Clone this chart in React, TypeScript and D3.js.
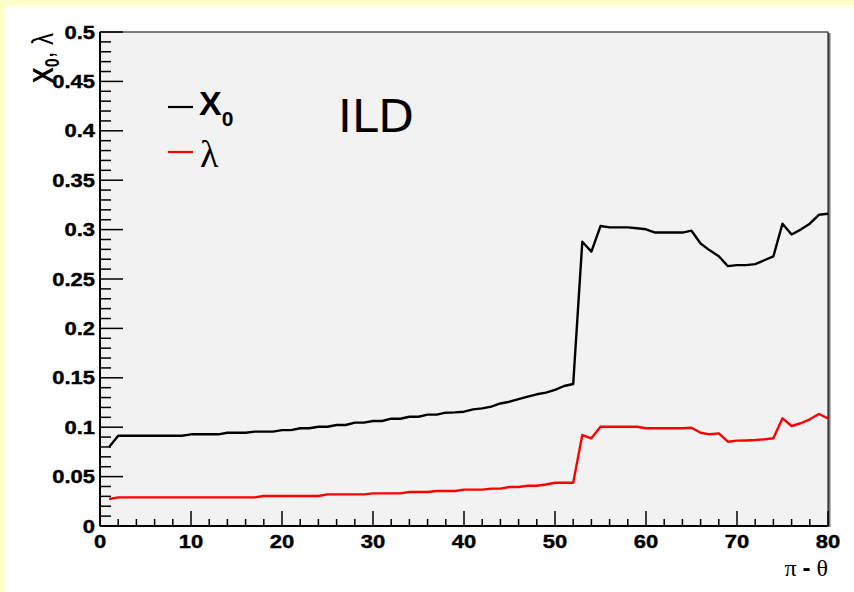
import React, { useEffect, useRef } from "react";
import * as d3 from "d3";

// material budget vs. angle, one value per degree bin (1..80)
const x0Values = [
  0.080, 0.0914, 0.0914, 0.0914, 0.0914, 0.0914, 0.0914, 0.0914, 0.0914, 0.0928,
  0.0928, 0.0928, 0.0928, 0.0944, 0.0944, 0.0944, 0.0955, 0.0955, 0.0955, 0.097,
  0.097, 0.0989, 0.0989, 0.1005, 0.1005, 0.1022, 0.1022, 0.1046, 0.1046, 0.1063,
  0.1063, 0.1086, 0.1086, 0.1106, 0.1106, 0.1127, 0.1127, 0.1147, 0.115, 0.1157,
  0.118, 0.119, 0.1208, 0.124, 0.1258, 0.1285, 0.131, 0.1333, 0.135, 0.1377,
  0.1417, 0.1437, 0.2877, 0.2777, 0.3036, 0.3023, 0.3023, 0.3023, 0.3013, 0.3003,
  0.297, 0.297, 0.297, 0.297, 0.2989, 0.286, 0.279, 0.273, 0.263, 0.264,
  0.264, 0.265, 0.269, 0.273, 0.306, 0.295, 0.300, 0.306, 0.315, 0.316,
];

const lambdaValues = [
  0.0273, 0.029, 0.029, 0.029, 0.029, 0.029, 0.029, 0.029, 0.029, 0.029,
  0.029, 0.029, 0.029, 0.029, 0.029, 0.029, 0.029, 0.0304, 0.0304, 0.0304,
  0.0304, 0.0304, 0.0304, 0.0304, 0.032, 0.032, 0.032, 0.032, 0.032, 0.033,
  0.033, 0.033, 0.033, 0.0344, 0.0344, 0.0344, 0.0354, 0.0354, 0.0354, 0.0368,
  0.0368, 0.0368, 0.0378, 0.0378, 0.0395, 0.0395, 0.0408, 0.0408, 0.042, 0.0438,
  0.0438, 0.0438, 0.0921, 0.0888, 0.1005, 0.1005, 0.1005, 0.1005, 0.1005, 0.0989,
  0.0989, 0.0989, 0.0989, 0.0989, 0.0995, 0.0944, 0.0928, 0.0938, 0.0853, 0.0864,
  0.0866, 0.087, 0.0877, 0.0888, 0.109, 0.1012, 0.104, 0.108, 0.1134, 0.109,
];

const xTicks = [0, 10, 20, 30, 40, 50, 60, 70, 80];
const yTicks = [0, 0.05, 0.1, 0.15, 0.2, 0.25, 0.3, 0.35, 0.4, 0.45, 0.5];
const yTickLabels = ["0", "0.05", "0.1", "0.15", "0.2", "0.25", "0.3", "0.35", "0.4", "0.45", "0.5"];

const W = 854;
const H = 592;
const SX = 1.22; // the original is stretched sideways

const App = () => {
  const ref = useRef<SVGSVGElement>(null);

  useEffect(() => {
    const svg = d3.select(ref.current);
    svg.selectAll("*").remove();

    const margin = { top: 32, right: 26, bottom: 66, left: 100 };
    const x = d3.scaleLinear().domain([0, 80]).range([margin.left, W - margin.right]);
    const y = d3.scaleLinear().domain([0, 0.5]).range([H - margin.bottom, margin.top]);
    const [x1, x2] = x.range();
    const [y2, y1] = y.range();

    svg.append("rect").attr("width", W).attr("height", H).attr("fill", "#ffffcc");
    svg.append("rect").attr("x", 5).attr("y", 6).attr("width", W).attr("height", H).attr("fill", "#ffffff");

    // frame
    svg.append("rect").attr("x", x2).attr("y", y1 + 1).attr("width", 2.5).attr("height", y2 - y1)
      .attr("fill", "#777");
    svg.append("rect").attr("x", x1).attr("y", y1).attr("width", x2 - x1).attr("height", y2 - y1)
      .attr("fill", "#f2f2f2").attr("stroke", "#000").attr("stroke-width", 1);

    const font = "'Liberation Sans', Arial, sans-serif";

    // y axis ticks
    const ay = svg.append("g");
    ay.selectAll("line.minor").data(d3.range(0, 51).map(i => i / 100)).enter().append("line")
      .attr("x1", x1).attr("x2", d => (Math.round(d * 100) % 5 === 0 ? x1 + 23 : x1 + 11))
      .attr("y1", d => y(d)).attr("y2", d => y(d))
      .attr("stroke", "#000").attr("stroke-width", 1.5);
    ay.selectAll("text").data(yTicks).enter().append("text")
      .attr("transform", d => `translate(${x1 - 5},${y(d) + 6.5}) scale(${SX},1)`)
      .attr("text-anchor", "end").attr("font-family", font).attr("font-weight", "bold")
      .attr("font-size", 18).attr("stroke", "#000").attr("stroke-width", 0.4)
      .text((d, i) => yTickLabels[i]);

    // x axis ticks
    const ax = svg.append("g");
    ax.selectAll("line").data(d3.range(0, 81, 2)).enter().append("line")
      .attr("x1", d => x(d)).attr("x2", d => x(d))
      .attr("y1", y2).attr("y2", d => (d % 10 === 0 ? y2 - 15 : y2 - 7))
      .attr("stroke", "#000").attr("stroke-width", 1.5);
    ax.selectAll("text").data(xTicks).enter().append("text")
      .attr("transform", d => `translate(${x(d)},${y2 + 22}) scale(${SX},1)`)
      .attr("text-anchor", "middle").attr("font-family", font).attr("font-weight", "bold")
      .attr("font-size", 18).attr("stroke", "#000").attr("stroke-width", 0.4)
      .text(d => String(d));

    // axis lines
    svg.append("line").attr("x1", x1).attr("x2", x1).attr("y1", y1).attr("y2", y2)
      .attr("stroke", "#000").attr("stroke-width", 2);
    svg.append("line").attr("x1", x1).attr("x2", x2).attr("y1", y2).attr("y2", y2)
      .attr("stroke", "#000").attr("stroke-width", 2);

    // data lines
    const series = [
      { values: x0Values, color: "#000000" },
      { values: lambdaValues, color: "#ff0000" },
    ];
    const gen = d3.line<number>().x((d, i) => x(i + 1)).y(d => y(d));
    series.forEach(s => {
      svg.append("path").datum(s.values).attr("d", gen).attr("fill", "none")
        .attr("stroke", s.color).attr("stroke-width", 2.4).attr("stroke-linejoin", "round");
    });

    // y title
    const yt = svg.append("text")
      .attr("transform", `translate(53,33) rotate(-90) scale(1,${SX})`)
      .attr("text-anchor", "end").attr("font-family", font).attr("font-size", 24);
    yt.append("tspan").attr("font-weight", "bold").text("X");
    yt.append("tspan").attr("font-weight", "bold").attr("font-size", 16).attr("dy", 5).text("0");
    yt.append("tspan").attr("dy", -5).text(", λ");

    // x title
    const xt = svg.append("text")
      .attr("transform", `translate(${x2},576)`)
      .attr("text-anchor", "end").attr("font-family", "'Liberation Serif', serif").attr("font-size", 24);
    xt.append("tspan").text("π ");
    xt.append("tspan").attr("font-family", font).attr("font-weight", "bold").text("-");
    xt.append("tspan").text(" θ");

    // legend
    const lg = svg.append("g");
    lg.append("line").attr("x1", 168).attr("x2", 193).attr("y1", 107).attr("y2", 107)
      .attr("stroke", "#000").attr("stroke-width", 2.2);
    lg.append("line").attr("x1", 168).attr("x2", 193).attr("y1", 152).attr("y2", 152)
      .attr("stroke", "#ff0000").attr("stroke-width", 2.2);
    const lx = lg.append("text").attr("x", 199).attr("y", 115).attr("font-family", font)
      .attr("font-weight", "bold").attr("font-size", 34);
    lx.append("tspan").text("X");
    lx.append("tspan").attr("font-size", 21).attr("dy", 11).text("0");
    lg.append("text").attr("x", 200).attr("y", 167).attr("font-family", "'Liberation Serif', serif")
      .attr("font-size", 38).text("λ");

    svg.append("text").attr("x", 338).attr("y", 132).attr("font-family", "'DejaVu Sans', sans-serif")
      .attr("font-size", 44).attr("textLength", 76).attr("lengthAdjust", "spacingAndGlyphs").text("ILD");
  }, []);

  return (
    <svg ref={ref} width={W} height={H} style={{ position: "absolute", left: 0, top: 0, display: "block" }} />
  );
};

export default App;
